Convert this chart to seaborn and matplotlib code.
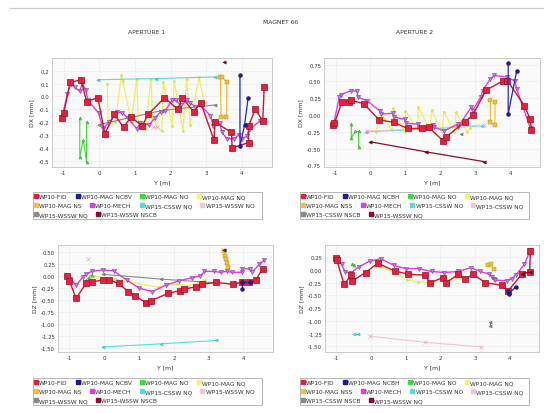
import matplotlib
matplotlib.use("Agg")
import matplotlib.pyplot as plt
from matplotlib.lines import Line2D
from matplotlib.patches import Rectangle
import seaborn as sns

sns.set_theme(style="whitegrid")
plt.rcParams["font.family"] = ["DejaVu Sans"]
plt.rcParams["axes.unicode_minus"] = False

W, H = 544, 414

# ---------------- series labels ----------------
labels_ap1 = ["WP10-FID", "WP10-MAG NCBV", "WP10-MAG NO", "WP10-MAG NQ",
              "WP10-MAG NS", "WP10-MECH", "WP15-CSSW NQ", "WP15-WSSW NO",
              "WP15-WSSW NQ", "WP15-WSSW NSCB"]
labels_ap2 = ["WP10-FID", "WP10-MAG NCBH", "WP10-MAG NO", "WP10-MAG NQ",
              "WP10-MAG NSS", "WP10-MECH", "WP15-CSSW NO", "WP15-CSSW NQ",
              "WP15-CSSW NSCB", "WP15-WSSW NQ"]

# ---------------- DX, aperture 1 ----------------
dx1_fid_x = [-1.05, -1.00, -0.82, -0.51, -0.36, -0.04, 0.15, 0.42, 0.68, 0.89, 1.20, 1.37, 1.83,
             2.20, 2.33, 2.65, 2.85, 3.22, 3.25, 3.71, 3.73, 4.19, 4.19, 4.38, 4.59, 4.63]
dx1_fid_y = [-0.17, -0.13, 0.11, 0.13, -0.04, -0.01, -0.29, -0.14, -0.24, -0.16, -0.23, -0.14, -0.01,
             -0.10, -0.01, -0.12, -0.05, -0.34, -0.20, -0.28, -0.40, -0.36, -0.23, -0.10, -0.19, 0.07]
dx1_ncb_x = [3.95, 3.95, 4.08, 4.18]
dx1_ncb_y = [0.17, -0.39, -0.22, -0.01]
dx1_no_x = [-0.55, -0.55, -0.45, -0.36, -0.36]
dx1_no_y = [-0.17, -0.47, -0.34, -0.51, -0.20]
dx1_nq_x = [0.22, 0.25, 0.45, 0.62, 0.66, 0.90, 1.05, 1.10, 1.30, 1.45, 1.50, 1.75, 1.80,
            2.05, 2.10, 2.35, 2.45, 2.55, 2.80, 2.95]
dx1_nq_y = [0.10, -0.22, -0.20, 0.17, 0.12, -0.20, 0.14, -0.22, -0.25, 0.14, -0.18, -0.27, 0.11,
            -0.23, 0.12, -0.27, 0.14, -0.22, 0.15, -0.05]
dx1_ns_x = [3.40, 3.42, 3.57, 3.58, 3.45]
dx1_ns_y = [0.15, -0.16, -0.16, 0.11, 0.15]
dx1_mech_x = [-1.05, -0.90, -0.80, -0.68, -0.55, -0.48, -0.38, -0.32, -0.02, 0.10, 0.28, 0.50, 0.65,
              0.80, 1.05, 1.15, 1.40, 1.55, 1.72, 1.85, 2.05, 2.15, 2.30, 2.45, 2.55, 2.70, 2.85,
              3.12, 3.20, 3.38, 3.45, 3.58, 3.78, 3.92, 4.00, 4.15, 4.20, 4.52, 4.62]
dx1_mech_y = [-0.17, 0.02, 0.10, 0.07, 0.04, 0.10, 0.05, -0.03, -0.13, -0.25, -0.20, -0.12, -0.13,
              -0.17, -0.25, -0.21, -0.22, -0.17, -0.12, -0.11, -0.03, -0.03, -0.07, -0.03, -0.05,
              -0.08, -0.07, -0.15, -0.23, -0.21, -0.28, -0.33, -0.33, -0.30, -0.33, -0.31, -0.26,
              -0.19, -0.18]
dx1_c_x = [-0.05, 1.60, 3.25]
dx1_c_y = [0.13, 0.14, 0.152]
dx1_w_x = [1.50, 1.62]
dx1_w_y = [-0.24, -0.24]
dx1_g_x = [-0.02, 1.75, 3.25]
dx1_g_y = [-0.22, -0.11, -0.066]
dx1_d_x = [3.49]
dx1_d_y = [0.27]

# ---------------- DX, aperture 2 ----------------
dx2_fid_x = [-1.06, -1.03, -0.81, -0.61, -0.56, -0.19, 0.24, 0.66, 1.06, 1.47, 1.66, 2.07, 2.16,
             2.70, 2.93, 3.30, 3.80, 3.92, 4.40, 4.57, 4.60]
dx2_fid_y = [-0.15, -0.12, 0.20, 0.20, 0.22, 0.17, -0.07, -0.11, -0.20, -0.20, -0.18, -0.38, -0.33,
             -0.10, 0.00, 0.37, 0.51, 0.51, 0.14, -0.06, -0.22]
dx2_ncb_x = [3.94, 3.94, 4.18]
dx2_ncb_y = [0.78, 0.015, 0.65]
dx2_no_x = [-0.55, -0.55, -0.44, -0.34, -0.34]
dx2_no_y = [-0.135, -0.345, -0.245, -0.245, -0.475]
dx2_nq_x = [0.15, 0.30, 0.62, 0.65, 0.98, 1.00, 1.35, 1.37, 1.70, 1.75, 2.05, 2.10, 2.40, 2.45,
            2.75, 2.85]
dx2_nq_y = [-0.25, 0.02, -0.22, 0.10, -0.25, 0.06, -0.22, 0.12, -0.23, 0.07, -0.25, 0.05, -0.25,
            0.04, -0.25, -0.20]
dx2_ns_x = [3.43, 3.43, 3.56, 3.56]
dx2_ns_y = [0.225, -0.11, -0.145, 0.19]
dx2_mech_x = [-1.06, -0.89, -0.84, -0.55, -0.38, -0.36, -0.10, 0.26, 0.30, 0.64, 0.67, 0.99, 1.02,
              1.37, 1.40, 1.78, 1.83, 2.11, 2.50, 2.51, 2.88, 2.92, 3.16, 3.21, 3.43, 3.54, 3.92,
              4.13, 4.18, 4.58]
dx2_mech_y = [-0.15, 0.275, 0.305, 0.365, 0.355, 0.265, 0.215, 0.065, 0.015, 0.025, -0.035, -0.06,
              -0.125, -0.135, -0.195, -0.145, -0.185, -0.235, -0.135, -0.175, 0.115, 0.065, 0.275,
              0.365, 0.54, 0.59, 0.565, 0.505, 0.39, -0.20]
dx2_c_x = [-0.12, 1.55, 3.20]
dx2_c_y = [-0.25, -0.21, -0.16]
dx2_w_x = [-0.10, 1.60, 3.25]
dx2_w_y = [-0.24, -0.20, -0.15]
dx2_g_x = [2.59]
dx2_g_y = [-0.28]
dx2_d_x = [0.00, 1.60, 3.25]
dx2_d_y = [-0.40, -0.55, -0.695]

# ---------------- DZ, aperture 1 ----------------
dz1_fid_x = [-1.07, -1.00, -0.81, -0.52, -0.36, -0.05, 0.14, 0.41, 0.69, 0.88, 1.19, 1.35, 1.83,
             2.17, 2.29, 2.65, 2.81, 3.22, 3.71, 3.95, 4.17, 4.36, 4.55]
dz1_fid_y = [0.00, -0.10, -0.46, -0.15, -0.12, -0.08, -0.08, -0.15, -0.32, -0.41, -0.55, -0.51,
             -0.36, -0.30, -0.27, -0.22, -0.17, -0.13, -0.17, -0.12, -0.13, -0.08, 0.16]
dz1_ncb_x = [3.95, 3.95, 4.18]
dz1_ncb_y = [-0.27, -0.12, -0.12]
dz1_no_x = [-0.55, -0.45, -0.35]
dz1_no_y = [-0.10, -0.03, 0.03]
dz1_nq_x = [-0.45, -0.30, 0.00, 0.30, 1.55, 1.80, 2.10, 2.40, 2.70, 2.90]
dz1_nq_y = [-0.05, 0.00, -0.03, -0.06, -0.23, -0.19, -0.17, -0.20, -0.13, -0.08]
dz1_ns_x = [3.45, 3.47, 3.50, 3.53, 3.55]
dz1_ns_y = [0.53, 0.42, 0.35, 0.27, 0.20]
dz1_mech_x = [-1.07, -0.98, -0.81, -0.62, -0.52, -0.36, -0.05, 0.27, 0.65, 1.00, 1.38, 1.76, 2.14,
              2.52, 2.76, 2.88, 3.14, 3.35, 3.52, 3.67, 3.95, 3.97, 4.19, 4.26, 4.46, 4.60]
dz1_mech_y = [0.00, -0.05, -0.19, -0.02, 0.04, 0.10, 0.13, 0.11, -0.08, -0.25, -0.32, -0.19, -0.10,
              -0.03, 0.00, 0.10, 0.10, 0.08, 0.10, 0.08, 0.08, 0.16, 0.15, 0.09, 0.25, 0.33]
dz1_c_x = [-0.05, 1.62, 3.22]
dz1_c_y = [-1.476, -1.41, -1.34]
dz1_w_x = [-0.46]
dz1_w_y = [0.35]
dz1_g_x = [-0.05, 1.62, 3.22]
dz1_g_y = [0.04, -0.06, -0.14]
dz1_d_x = [3.45]
dz1_d_y = [0.55]

# ---------------- DZ, aperture 2 ----------------
dz2_fid_x = [-1.01, -0.99, -0.78, -0.57, -0.54, -0.16, 0.19, 0.69, 1.08, 1.56, 1.70, 2.08, 2.17,
             2.52, 2.71, 2.95, 3.30, 3.77, 3.96, 4.37, 4.58, 4.60]
dz2_fid_y = [0.227, 0.195, -0.28, -0.10, -0.214, -0.05, 0.13, -0.02, -0.084, -0.104, -0.25, -0.15,
             -0.25, -0.084, -0.18, -0.084, -0.25, -0.30, -0.41, -0.07, -0.04, 0.38]
dz2_ncb_x = [3.95, 3.98, 4.18]
dz2_ncb_y = [-0.42, -0.47, -0.33]
dz2_no_x = [-0.55, -0.50]
dz2_no_y = [0.12, 0.10]
dz2_nq_x = [0.10, 0.30, 0.66, 1.03, 1.36, 1.75, 2.12, 2.45, 2.60]
dz2_nq_y = [0.05, 0.06, -0.06, -0.19, -0.23, -0.25, -0.21, -0.16, -0.12]
dz2_ns_x = [3.38, 3.45, 3.55]
dz2_ns_y = [0.10, 0.12, 0.02]
dz2_mech_x = [-1.01, -0.85, -0.75, -0.57, -0.35, -0.03, 0.28, 0.66, 1.01, 1.39, 1.75, 2.12, 2.50,
              2.88, 3.16, 3.42, 3.50, 3.54, 3.58, 3.92, 4.06, 4.18, 4.43, 4.60]
dz2_mech_y = [0.24, 0.11, -0.04, -0.05, 0.065, 0.175, 0.22, 0.09, 0.026, 0.026, -0.03, -0.05, -0.03,
              0.045, -0.03, -0.084, -0.13, -0.17, -0.20, -0.21, -0.17, -0.10, 0.11, 0.39]
dz2_c_x = [-0.50, -0.38]
dz2_c_y = [-1.25, -1.25]
dz2_w_x = [-0.03, 1.56, 3.18]
dz2_w_y = [-1.30, -1.42, -1.51]
dz2_g_x = [3.44, 3.44]
dz2_g_y = [-1.02, -1.10]
dz2_d_x = [4.37, 4.58]
dz2_d_y = [-0.07, -0.04]

# ---------------- styles per series slot ----------------
COLORS = ["#e3203c", "#1c1c96", "#3fd83f", "#f3f36c", "#f0c03a",
          "#e03ce0", "#4ddede", "#f2c4d6", "#8a8a8a", "#8e0c2c"]
STYLES = [
    dict(marker="s", markersize=4.0, markerfacecolor="#e6203c", markeredgecolor="#961028",
         markeredgewidth=0.5, linewidth=1.0, color="#c8162f", zorder=4),
    dict(marker="o", markersize=2.8, markerfacecolor="#1c1c96", markeredgecolor="#0c0c60",
         markeredgewidth=0.3, linewidth=0.9, color="#2a2ab0", zorder=5),
    dict(marker="^", markersize=2.2, markerfacecolor="#3fd83f", markeredgecolor="#2aa02a",
         markeredgewidth=0.3, linewidth=0.8, color="#3fd83f", zorder=3),
    dict(marker=".", markersize=2.8, markerfacecolor="#e6e64a", markeredgecolor="#c8c840",
         markeredgewidth=0.3, linewidth=0.85, color="#eeee5a", zorder=2),
    dict(marker="s", markersize=2.2, markerfacecolor="#f0c03a", markeredgecolor="#b08a20",
         markeredgewidth=0.3, linewidth=0.9, color="#f0c03a", zorder=3),
    dict(marker="v", markersize=3.0, markerfacecolor="#c27ae6", markeredgecolor="#8a3aa8",
         markeredgewidth=0.4, linewidth=1.0, color="#e03ce0", zorder=3.5),
    dict(marker="<", markersize=2.2, markerfacecolor="#4ddede", markeredgecolor="#2aa8a8",
         markeredgewidth=0.3, linewidth=0.8, color="#4ddede", zorder=2.5),
    dict(marker="x", markersize=2.2, markerfacecolor="#f2c4d6", markeredgecolor="#d8a0b8",
         markeredgewidth=0.4, linewidth=0.8, color="#f2c4d6", zorder=2.5),
    dict(marker="<", markersize=2.2, markerfacecolor="#8a8a8a", markeredgecolor="#606060",
         markeredgewidth=0.3, linewidth=0.8, color="#8a8a8a", zorder=2.5),
    dict(marker="<", markersize=2.4, markerfacecolor="#6e0a22", markeredgecolor="#400010",
         markeredgewidth=0.3, linewidth=0.9, color="#8e0c2c", zorder=4.5),
]

panels = [
    dict(rect=(52, 59, 272, 168), ylim=(-0.55, 0.30), yticks=[-0.5, -0.4, -0.3, -0.2, -0.1, 0.0, 0.1, 0.2],
         yfmt="{:.1f}", ylabel="DX [mm]", labels=labels_ap1, legend=(33, 193, 262, 220),
         title=("APERTURE 1", 147),
         series=[(dx1_fid_x, dx1_fid_y), (dx1_ncb_x, dx1_ncb_y), (dx1_no_x, dx1_no_y),
                 (dx1_nq_x, dx1_nq_y), (dx1_ns_x, dx1_ns_y), (dx1_mech_x, dx1_mech_y),
                 (dx1_c_x, dx1_c_y), (dx1_w_x, dx1_w_y), (dx1_g_x, dx1_g_y), (dx1_d_x, dx1_d_y)]),
    dict(rect=(324, 59, 540, 168), ylim=(-0.775, 0.85), yticks=[-0.75, -0.5, -0.25, 0.0, 0.25, 0.5, 0.75],
         yfmt="{:.2f}", ylabel="DX [mm]", labels=labels_ap2, legend=(300, 193, 529, 220),
         title=("APERTURE 2", 415),
         series=[(dx2_fid_x, dx2_fid_y), (dx2_ncb_x, dx2_ncb_y), (dx2_no_x, dx2_no_y),
                 (dx2_nq_x, dx2_nq_y), (dx2_ns_x, dx2_ns_y), (dx2_mech_x, dx2_mech_y),
                 (dx2_c_x, dx2_c_y), (dx2_w_x, dx2_w_y), (dx2_g_x, dx2_g_y), (dx2_d_x, dx2_d_y)]),
    dict(rect=(58, 246, 273, 353), ylim=(-1.58, 0.65),
         yticks=[-1.5, -1.25, -1.0, -0.75, -0.5, -0.25, 0.0, 0.25, 0.5],
         yfmt="{:.2f}", ylabel="DZ [mm]", labels=labels_ap1, legend=(33, 379, 262, 406),
         title=None,
         series=[(dz1_fid_x, dz1_fid_y), (dz1_ncb_x, dz1_ncb_y), (dz1_no_x, dz1_no_y),
                 (dz1_nq_x, dz1_nq_y), (dz1_ns_x, dz1_ns_y), (dz1_mech_x, dz1_mech_y),
                 (dz1_c_x, dz1_c_y), (dz1_w_x, dz1_w_y), (dz1_g_x, dz1_g_y), (dz1_d_x, dz1_d_y)]),
    dict(rect=(325, 246, 539, 353), ylim=(-1.61, 0.49),
         yticks=[-1.5, -1.25, -1.0, -0.75, -0.5, -0.25, 0.0, 0.25],
         yfmt="{:.2f}", ylabel="DZ [mm]", labels=labels_ap2, legend=(300, 379, 529, 406),
         title=None,
         series=[(dz2_fid_x, dz2_fid_y), (dz2_ncb_x, dz2_ncb_y), (dz2_no_x, dz2_no_y),
                 (dz2_nq_x, dz2_nq_y), (dz2_ns_x, dz2_ns_y), (dz2_mech_x, dz2_mech_y),
                 (dz2_c_x, dz2_c_y), (dz2_w_x, dz2_w_y), (dz2_g_x, dz2_g_y), (dz2_d_x, dz2_d_y)]),
]

fig = plt.figure(figsize=(W / 100, H / 100), dpi=100)
fig.patch.set_facecolor("white")

# thin rule across the top of the page
fig.add_artist(Line2D([10 / W, 1.0], [1 - 9 / H, 1 - 9 / H], color="#c9c9c9", linewidth=0.9))
fig.text(281 / W, 1 - 23 / H, "MAGNET 66", ha="center", va="center", fontsize=4.3, color="#333333")

TICK_FS = 3.9
LABEL_FS = 4.4
LEG_FS = 4.2

for p in panels:
    x0, y0, x1, y1 = p["rect"]
    ax = fig.add_axes([x0 / W, 1 - y1 / H, (x1 - x0) / W, (y1 - y0) / H])
    ax.set_facecolor("#fafafa")
    ax.grid(True, color="#e9e9e9", linewidth=0.4)
    for sp in ax.spines.values():
        sp.set_color("#c4c4c4")
        sp.set_linewidth(0.6)

    for (xs, ys), st in zip(p["series"], STYLES):
        sns.lineplot(x=xs, y=ys, sort=False, estimator=None, ax=ax, **st)

    ax.set_xlim(-1.33, 4.85)
    ax.set_xticks([-1, 0, 1, 2, 3, 4])
    ax.set_xticklabels(["-1", "0", "1", "2", "3", "4"])
    ax.set_ylim(*p["ylim"])
    ax.set_yticks(p["yticks"])
    ax.set_yticklabels([p["yfmt"].format(v) for v in p["yticks"]])
    ax.tick_params(labelsize=TICK_FS, length=0, pad=2, colors="#333333")
    ax.set_xlabel("Y [m]", fontsize=LABEL_FS, labelpad=3, color="#333333")
    ax.set_ylabel(p["ylabel"], fontsize=LABEL_FS, labelpad=3, color="#333333")

    if p["title"]:
        t, tx = p["title"]
        fig.text(tx / W, 1 - 33 / H, t, ha="center", va="center", fontsize=4.3, color="#333333")

    # legend: boxed, entries flowing in three rows
    lx0, ly0, lx1, ly1 = p["legend"]
    fig.add_artist(Rectangle((lx0 / W, 1 - ly1 / H), (lx1 - lx0) / W, (ly1 - ly0) / H,
                             transform=fig.transFigure, facecolor="white",
                             edgecolor="#b8b8b8", linewidth=0.7, zorder=0))
    handles = [Line2D([], [], linestyle="none", marker="s", markersize=3.2,
                      markerfacecolor=c, markeredgecolor=c) for c in COLORS]
    rows = [range(0, 4), range(4, 8), range(8, 10)]
    row_h = (ly1 - ly0) / 3.0
    for r, idx in enumerate(rows):
        idx = list(idx)
        ycen = ly0 + row_h * (r + 0.5)
        leg = fig.legend([handles[i] for i in idx], [p["labels"][i] for i in idx],
                         ncol=len(idx), loc="center left",
                         bbox_to_anchor=((lx0 + 1) / W, 1 - ycen / H),
                         frameon=False, fontsize=LEG_FS, handlelength=0.6,
                         handletextpad=0.3, columnspacing=1.4, borderpad=0,
                         borderaxespad=0)
        for txt in leg.get_texts():
            txt.set_color("#333333")

fig.savefig("out.png", dpi=100, facecolor="white")
